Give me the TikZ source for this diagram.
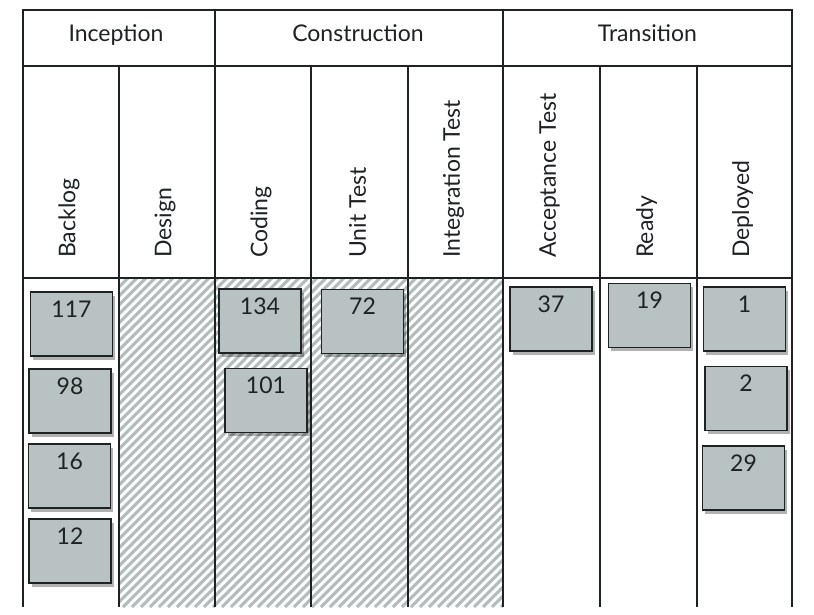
\documentclass[tikz,border=0pt]{standalone}
\usepackage{fontspec}
\setmainfont{Lato}
\usepackage{tikz}
\usetikzlibrary{shadows}

\definecolor{inkline}{RGB}{30,34,34}
\definecolor{cardgray}{RGB}{185,194,194}
\definecolor{hatchgray}{RGB}{178,188,188}

\begin{document}
\begin{tikzpicture}[x=1pt, y=-1pt,
    every node/.style={font=\fontsize{23}{25}\selectfont, text=inkline},
    board/.style={line width=1.6pt, draw=inkline},
    hatch/.style={line width=3pt, draw=hatchgray},
    lane/.style={rotate=90, anchor=west, inner sep=0pt},
    card/.style={draw=inkline, line width=1.8pt, fill=cardgray,
        minimum width=82pt, minimum height=64pt, inner xsep=0pt, inner ysep=9pt,
        text height=16pt, text depth=30pt,
        drop shadow={shadow xshift=2.5pt, shadow yshift=-3.5pt, opacity=0.3, fill=black}}]

    % page
    \fill[white] (0,0) rectangle (814,615);
    \useasboundingbox (0,0) rectangle (814,615);

    % work in progress blocked (hatched lanes)
    \begin{scope}
        \clip (119,278) rectangle (503,607);
        \foreach \s in {-210,-201,...,510}
            \draw[hatch] (\s,607) -- ++(329,-329);
    \end{scope}

    % board grid
    \draw[board] (23,607) -- (23,10) -- (792,10) -- (792,607);
    \draw[board] (23,66) -- (792,66);
    \draw[board] (23,278) -- (792,278);
    \foreach \x in {215,503}
        \draw[board] (\x,10) -- (\x,607);
    \foreach \x in {119,311,408,600,697}
        \draw[board] (\x,66) -- (\x,607);

    % phases
    \foreach \x/\t [count=\i] in {116/Inception, 358/Construction, 647.5/Transition}
        \node[anchor=base] (phase\i) at (\x,42) {\t};

    % lanes
    \foreach \x/\t [count=\i] in {69/Backlog, 165/Design, 261/Coding, 357.5/Unit Test,
            453.5/Integration Test, 549.5/Acceptance Test, 646.5/Ready, 742.5/Deployed}
        \node[lane] (lane\i) at (\x,258) {\t};

    % cards
    \foreach \x/\y/\n in {71.5/324/117, 70/401/98, 69.5/476/16, 70/551/12,
            260/321/134, 266/400.5/101, 362.5/321.5/72,
            551/319/37, 649.5/315.5/19,
            744.5/319/1, 746/398.5/2, 743.5/478/29}
        \node[card] (card\n) at (\x,\y) {\n};
\end{tikzpicture}
\end{document}
